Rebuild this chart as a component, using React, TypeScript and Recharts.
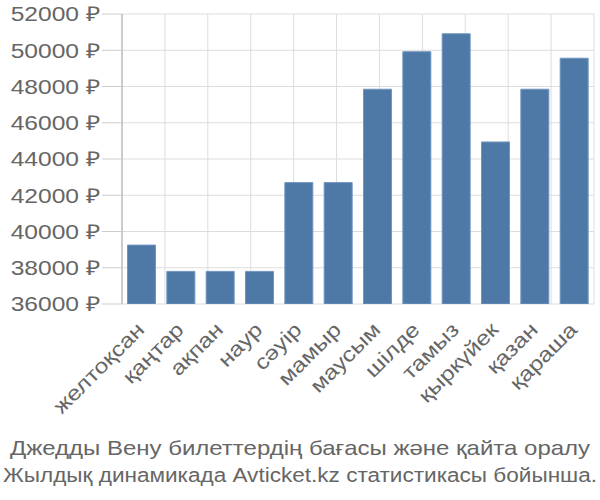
import React from 'react';
import { BarChart, Bar, XAxis, YAxis, CartesianGrid } from 'recharts';

const months = ['желтоқсан', 'қаңтар', 'ақпан', 'наур', 'сәуір', 'мамыр', 'маусым', 'шілде', 'тамыз', 'қыркүйек', 'қазан', 'қараша'];
const prices = [39250, 37800, 37800, 37800, 42700, 42700, 47850, 49920, 50910, 44940, 47850, 49560];
const yTicks = [36000, 38000, 40000, 42000, 44000, 46000, 48000, 50000, 52000];
const boundaries = [0, 1, 2, 3, 4, 5, 6, 7, 8, 9, 10, 11, 12];
const titleLine1 = 'Джедды Вену билеттердің бағасы және қайта оралу';
const titleLine2 = 'Жылдық динамикада Avticket.kz статистикасы бойынша.';

const data = months.map((m, i) => ({ month: m, price: prices[i] }));

const FONT = '"Liberation Sans", Arial, sans-serif';
const TEXT = '#666';
const STRETCH = 1.2;

const XTick = (props: any) => {
  const { x, y, payload } = props;
  return (
    <g transform={`translate(${x + 4},${y + 27}) rotate(-45) scale(${STRETCH},1)`}>
      <text textAnchor="end" x={0} y={0} fontFamily={FONT} fontSize={20.5} fill={TEXT}>
        {payload.value}
      </text>
    </g>
  );
};

const YTick = (props: any) => {
  const { x, y, payload } = props;
  return (
    <g transform={`translate(${x},${y}) scale(${STRETCH},1)`}>
      <text x={0} y={0} dy="0.36em" textAnchor="end" fontFamily={FONT} fontSize={20.5} fill={TEXT}>
        {`${payload.value} ₽`}
      </text>
    </g>
  );
};

const EmptyTick = () => <g />;

export default function App() {
  return (
    <div style={{ position: 'fixed', left: 0, top: 0, width: 600, height: 500, background: '#fff' }}>
      <BarChart width={600} height={500} data={data} margin={{ top: 14, right: 6, left: 0, bottom: 0 }} barCategoryGap="14%">
        <CartesianGrid xAxisId="grid" yAxisId="y" stroke="#dddddd" strokeWidth={1} />
        <XAxis
          xAxisId="grid"
          type="number"
          domain={[0, 12]}
          ticks={boundaries}
          allowDataOverflow
          height={0}
          tickSize={20}
          tick={EmptyTick}
          tickLine={{ stroke: '#cccccc' }}
          axisLine={{ stroke: '#cccccc' }}
          interval={0}
        />
        <XAxis
          xAxisId="cat"
          dataKey="month"
          height={196}
          tickLine={false}
          axisLine={false}
          tickSize={0}
          tickMargin={0}
          tick={<XTick />}
          interval={0}
        />
        <YAxis
          yAxisId="y"
          domain={[36000, 52000]}
          ticks={yTicks}
          allowDataOverflow
          width={122}
          tickSize={20}
          tickMargin={2}
          tickLine={{ stroke: '#cccccc' }}
          axisLine={{ stroke: '#aaaaaa' }}
          tick={<YTick />}
          interval={0}
        />
        <Bar xAxisId="cat" yAxisId="y" dataKey="price" fill="#4e79a7" stroke="#7096c0" strokeWidth={1} isAnimationActive={false} />
        <g transform={`translate(300,455) scale(${STRETCH},1)`}>
          <text x={0} y={0} textAnchor="middle" fontFamily={FONT} fontSize={20} fill={TEXT}>
            {titleLine1}
          </text>
        </g>
        <text x={3} y={482} textLength={594} lengthAdjust="spacingAndGlyphs" fontFamily={FONT} fontSize={20} fill={TEXT}>
          {titleLine2}
        </text>
      </BarChart>
    </div>
  );
}
